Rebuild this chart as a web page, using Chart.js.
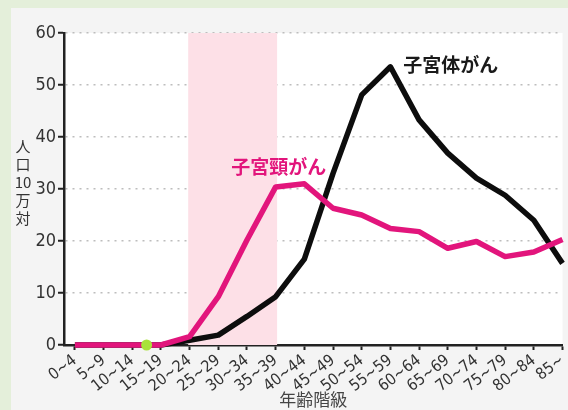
<!DOCTYPE html>
<html lang="ja">
<head>
    <meta charset="UTF-8">
    <title>子宮がん 年齢階級別罹患率</title>
    <script src="https://cdn.jsdelivr.net/npm/chart.js"></script>
    <style>
        html, body {
            margin: 0;
            padding: 0;
            background-color: #e4efda;
        }
        .panel {
            position: absolute;
            left: 11px;
            top: 8px;
            width: 557px;
            height: 402px;
            background-color: #f4f4f4;
        }
        .chart-box {
            position: absolute;
            left: 0;
            top: 0;
            width: 568px;
            height: 410px;
        }
    </style>
</head>
<body>
    <div class="panel"></div>
    <div class="chart-box">
        <canvas id="cancerChart" width="568" height="410"></canvas>
    </div>

    <script>
        // 年齢階級
        const ageGroups = ['0~4', '5~9', '10~14', '15~19', '20~24', '25~29', '30~34', '35~39',
            '40~44', '45~49', '50~54', '55~59', '60~64', '65~69', '70~74', '75~79', '80~84', '85~'];

        // 人口10万対
        const cervixRates = [0, 0, 0, 0, 1.6, 9.3, 20.2, 30.4, 31.0, 26.3, 25.0, 22.4, 21.8, 18.6, 19.9, 17.0, 17.9, 20.3];
        const bodyRates = [0, 0, 0, 0, 0.9, 1.9, 5.5, 9.3, 16.5, 33.0, 48.1, 53.5, 43.3, 36.9, 32.1, 28.8, 24.0, 15.7];

        // 目印の点（10~14 と 15~19 の間）
        const markerPoint = [{ x: 2.5, y: 0 }];

        // 網掛けの範囲（20~24 から 35~39）
        const bandFrom = 4;
        const bandTo = 7;

        const yTicks = [0, 10, 20, 30, 40, 50, 60];
        const yTitle = ['人', '口', '10', '万', '対'];

        const numFont = '"Liberation Sans Narrow", "DejaVu Sans Condensed", "Roboto", sans-serif';
        const jpFont = '"Noto Sans CJK JP", sans-serif';

        const decorPlugin = {
            id: 'decor',
            beforeDraw(chart) {
                const { ctx, chartArea: a } = chart;
                ctx.save();
                ctx.fillStyle = '#ffffff';
                ctx.fillRect(a.left, a.top, a.right - a.left, a.bottom - a.top);
                ctx.restore();
            },
            beforeDatasetsDraw(chart) {
                const { ctx, chartArea: a, scales: { x } } = chart;
                const x1 = x.getPixelForValue(bandFrom - 0.05);
                const x2 = x.getPixelForValue(bandTo + 0.05);
                ctx.save();
                ctx.fillStyle = '#fde0e7';
                ctx.fillRect(x1, a.top, x2 - x1, a.bottom - a.top);
                ctx.restore();
            },
            afterDraw(chart) {
                const { ctx, scales: { x, y } } = chart;
                ctx.save();
                // 縦書きの軸タイトル
                ctx.fillStyle = '#333';
                ctx.font = '15px ' + jpFont;
                ctx.textAlign = 'center';
                ctx.textBaseline = 'middle';
                yTitle.forEach((t, i) => ctx.fillText(t, 23, 146 + i * 18));

                // 系列名
                ctx.font = 'bold 19px ' + jpFont;
                ctx.textAlign = 'left';
                ctx.fillStyle = '#1a1a1a';
                ctx.fillText('子宮体がん', x.getPixelForValue(11.45), y.getPixelForValue(53.8));
                ctx.fillStyle = '#e2157c';
                ctx.fillText('子宮頸がん', x.getPixelForValue(5.45), y.getPixelForValue(34.3));
                ctx.restore();
            }
        };

        const ctx = document.getElementById('cancerChart').getContext('2d');

        new Chart(ctx, {
            type: 'line',
            data: {
                datasets: [
                    {
                        label: 'marker',
                        type: 'scatter',
                        data: markerPoint,
                        pointRadius: 5.5,
                        pointBackgroundColor: '#a8e23a',
                        pointBorderWidth: 0,
                        clip: false
                    },
                    {
                        label: '子宮頸がん',
                        data: cervixRates.map((v, i) => ({ x: i, y: v })),
                        borderColor: '#e2157c',
                        borderWidth: 5.5,
                        pointRadius: 0,
                        tension: 0,
                        fill: false,
                        clip: false,
                        borderJoinStyle: 'round'
                    },
                    {
                        label: '子宮体がん',
                        data: bodyRates.map((v, i) => ({ x: i, y: v })),
                        borderColor: '#0d0d0d',
                        borderWidth: 5.5,
                        pointRadius: 0,
                        tension: 0,
                        fill: false,
                        clip: false,
                        borderJoinStyle: 'round'
                    }
                ]
            },
            options: {
                responsive: false,
                animation: false,
                layout: { padding: { left: 0, top: 33, right: 5, bottom: 0 } },
                plugins: {
                    legend: { display: false },
                    tooltip: { enabled: false }
                },
                scales: {
                    x: {
                        type: 'linear',
                        min: -0.38,
                        max: 17,
                        afterBuildTicks: axis => { axis.ticks = ageGroups.map((_, i) => ({ value: i })); },
                        afterFit: axis => {
                            axis.height = 65;
                            axis.paddingLeft = 0;
                            axis.paddingRight = 0;
                        },
                        grid: {
                            drawOnChartArea: false,
                            tickLength: 5,
                            tickColor: '#222',
                            tickWidth: 2
                        },
                        border: { color: '#222', width: 2.5 },
                        ticks: {
                            autoSkip: false,
                            minRotation: 38,
                            maxRotation: 38,
                            padding: 1,
                            color: '#333',
                            font: { family: numFont, size: 16 },
                            callback: v => ageGroups[v]
                        },
                        title: {
                            display: true,
                            text: '年齢階級',
                            color: '#444',
                            font: { family: jpFont, size: 17 },
                            padding: { top: 3, bottom: 0 }
                        }
                    },
                    y: {
                        min: 0,
                        max: 60,
                        afterBuildTicks: axis => { axis.ticks = yTicks.map(v => ({ value: v })); },
                        afterFit: axis => {
                            axis.width = 64;
                            axis.paddingTop = 0;
                            axis.paddingBottom = 0;
                        },
                        grid: {
                            color: ctx => ctx.tick && ctx.tick.value === 0 ? 'rgba(0,0,0,0)' : '#bdbdbd',
                            lineWidth: 1.5,
                            tickLength: 6,
                            tickColor: '#222',
                            tickWidth: 2,
                            tickBorderDash: []
                        },
                        border: { color: '#222', width: 2.5, dash: [2, 5] },
                        ticks: {
                            padding: 2,
                            color: '#333',
                            font: { family: numFont, size: 18 }
                        }
                    }
                }
            },
            plugins: [decorPlugin]
        });
    </script>
</body>
</html>
